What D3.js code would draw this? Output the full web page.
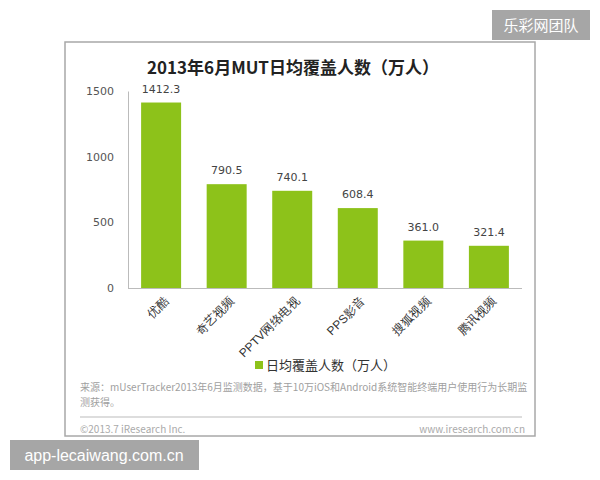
<!DOCTYPE html>
<html><head><meta charset="utf-8">
<script src="https://cdn.jsdelivr.net/npm/d3@7"></script>
<style>body{margin:0;background:#fff;}svg{display:block;font-family:"Noto Sans CJK SC","Noto Sans",sans-serif;}</style>
</head><body>
<svg id="c" width="600" height="480"></svg>
<script>
const categories = ["优酷","奇艺视频","PPTV网络电视","PPS影音","搜狐视频","腾讯视频"];
const values = [1412.3, 790.5, 740.1, 608.4, 361.0, 321.4];
const valueLabels = ["1412.3","790.5","740.1","608.4","361.0","321.4"];
const yTicks = [0, 500, 1000, 1500];
const title = "2013年6月MUT日均覆盖人数（万人）";
const legendLabel = "日均覆盖人数（万人）";
const sourceLines = ["来源：mUserTracker2013年6月监测数据，基于10万iOS和Android系统智能终端用户使用行为长期监","测获得。"];

const svg = d3.select("#c");
const green = "#8dc21a";

// frame
svg.append("rect").attr("x",65).attr("y",42).attr("width",470).attr("height",394)
  .attr("fill","#fff").attr("stroke","#a8a8a8").attr("stroke-width",1.5);

svg.append("text").attr("x",293).attr("y",74).attr("text-anchor","middle")
  .attr("font-size",17).attr("font-weight",600).attr("fill","#222").text(title);

const x = d3.scaleBand().domain(categories).range([128,522]).paddingInner(0.39).paddingOuter(0.2);
const y = d3.scaleLinear().domain([0,1500]).range([288,91]);

// y axis
const ya = svg.append("g").attr("transform","translate(128,0)")
  .call(d3.axisLeft(y).tickValues(yTicks).tickFormat(d3.format("d")).tickSize(0).tickPadding(14));
ya.select(".domain").attr("stroke","#bbb");
ya.selectAll("text").attr("font-family","DejaVu Sans, sans-serif").attr("font-size",11).attr("fill","#555");

// bars
svg.selectAll("rect.bar").data(values).enter().append("rect").attr("class","bar")
  .attr("x",(d,i)=>x(categories[i])).attr("width",x.bandwidth())
  .attr("y",d=>y(d)).attr("height",d=>y(0)-y(d)).attr("fill",green);

// value labels
svg.selectAll("text.val").data(values).enter().append("text").attr("class","val")
  .attr("x",(d,i)=>x(categories[i])+x.bandwidth()/2).attr("y",d=>y(d)-10)
  .attr("text-anchor","middle").attr("font-family","DejaVu Sans, sans-serif")
  .attr("font-size",11).attr("fill","#444").text((d,i)=>valueLabels[i]);

// x axis
const xa = svg.append("g").attr("transform","translate(0,288)")
  .call(d3.axisBottom(x).tickSize(0).tickPadding(0));
xa.select(".domain").attr("stroke","#bbb").attr("d","M128,0.5H522");
xa.selectAll("text").attr("font-size",12).attr("fill","#333")
  .attr("text-anchor","end").attr("dy",0)
  .attr("transform","translate(8,14) rotate(-45)");

// legend
svg.append("rect").attr("x",255).attr("y",361).attr("width",8).attr("height",8).attr("fill",green);
svg.append("text").attr("x",266).attr("y",370).attr("font-size",13).attr("fill","#333").text(legendLabel);

// source
sourceLines.forEach((t,i)=>{
  svg.append("text").attr("x",80).attr("y",391+i*15).attr("font-size",10).attr("fill","#a0a0a0").text(t);
});
svg.append("line").attr("x1",80).attr("x2",522).attr("y1",417).attr("y2",417).attr("stroke","#bbb");
svg.append("text").attr("x",80).attr("y",433).attr("font-size",10).attr("fill","#aaa").text("©2013.7 iResearch Inc.");
svg.append("text").attr("x",525).attr("y",433).attr("text-anchor","end").attr("font-size",10).attr("fill","#aaa").text("www.iresearch.com.cn");

// watermarks
svg.append("rect").attr("x",492).attr("y",10).attr("width",98).attr("height",30).attr("fill","#a6a6a6");
svg.append("text").attr("x",541).attr("y",31).attr("text-anchor","middle").attr("font-size",15).attr("fill","#fff").text("乐彩网团队");
svg.append("rect").attr("x",10).attr("y",440).attr("width",189).attr("height",30).attr("fill","#a6a6a6");
svg.append("text").attr("x",104).attr("y",461).attr("text-anchor","middle").attr("font-family","Liberation Sans, Arial, sans-serif").attr("font-size",16).attr("fill","#fff").text("app-lecaiwang.com.cn");
</script>
</body></html>
